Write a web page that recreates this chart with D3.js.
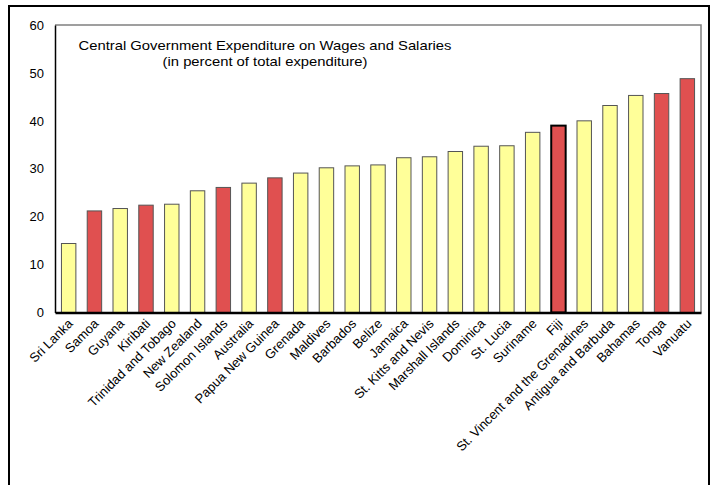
<!DOCTYPE html>
<html>
<head>
<meta charset="utf-8">
<script src="https://cdn.jsdelivr.net/npm/d3@7"></script>
<style>
  html, body { margin: 0; padding: 0; background: #fff; }
  svg { display: block; }
  text { font-family: "Liberation Sans", Arial, sans-serif; fill: #000; }
</style>
</head>
<body>
<svg id="chart" width="711" height="485"></svg>
<script>
// Countries, ordered from lowest to highest share
const countries = [
  "Sri Lanka", "Samoa", "Guyana", "Kiribati", "Trinidad and Tobago",
  "New Zealand", "Solomon Islands", "Australia", "Papua New Guinea",
  "Grenada", "Maldives", "Barbados", "Belize", "Jamaica",
  "St. Kitts and Nevis", "Marshall Islands", "Dominica", "St. Lucia",
  "Suriname", "Fiji", "St. Vincent and the Grenadines",
  "Antigua and Barbuda", "Bahamas", "Tonga", "Vanuatu"
];
// Wages and salaries, percent of total expenditure
const wageShare = [
  14.4, 21.2, 21.7, 22.4, 22.6,
  25.4, 26.1, 27.0, 28.1,
  29.1, 30.2, 30.6, 30.8, 32.3,
  32.5, 33.6, 34.7, 34.8,
  37.6, 39.0, 40.0,
  43.2, 45.3, 45.7, 48.8
];
// Pacific economies are shown in red
const highlighted = [
  "Samoa", "Kiribati", "Solomon Islands", "Papua New Guinea",
  "Fiji", "Tonga", "Vanuatu"
];
const emphasized = ["Fiji"];
const yTicks = [0, 10, 20, 30, 40, 50, 60];
const titleLines = [
  "Central Government Expenditure on Wages and Salaries",
  "(in percent of total expenditure)"
];

const data = countries.map((c, i) => ({ name: c, value: wageShare[i] }));

const svg = d3.select("#chart");
const plot = { left: 55, top: 25, right: 701, bottom: 312.5 };

// Outer frame
svg.append("rect")
  .attr("x", 9).attr("y", 6)
  .attr("width", 700).attr("height", 520)
  .attr("fill", "none").attr("stroke", "#000").attr("stroke-width", 2);

const x = d3.scaleBand()
  .domain(countries)
  .range([plot.left, plot.right])
  .paddingInner(0.44)
  .paddingOuter(0.25);

const y = d3.scaleLinear()
  .domain([0, 60])
  .range([plot.bottom, plot.top]);

// Plot area border (top and right in grey)
svg.append("path")
  .attr("d", `M${plot.left},${plot.top}H${plot.right}V${plot.bottom}`)
  .attr("fill", "none").attr("stroke", "#808080").attr("stroke-width", 1.5);

// Bars
svg.append("g").selectAll("rect")
  .data(data)
  .join("rect")
  .attr("x", d => x(d.name))
  .attr("y", d => y(d.value))
  .attr("width", x.bandwidth())
  .attr("height", d => y(0) - y(d.value))
  .attr("fill", d => highlighted.includes(d.name) ? "#E05050" : "#FFFF99")
  .attr("stroke", d => emphasized.includes(d.name) ? "#000" : "#555")
  .attr("stroke-width", d => emphasized.includes(d.name) ? 2 : 1);

// Y axis
const yAxis = svg.append("g")
  .attr("transform", `translate(${plot.left},0)`)
  .call(d3.axisLeft(y).tickValues(yTicks).tickSize(0).tickPadding(11).tickFormat(d3.format("d")));
yAxis.select(".domain").attr("stroke", "#000").attr("stroke-width", 1.5);
yAxis.selectAll("text")
  .style("font-family", "'Liberation Sans', Arial, sans-serif")
  .style("font-size", "13px");

// X axis
const xAxis = svg.append("g")
  .attr("transform", `translate(0,${plot.bottom})`)
  .call(d3.axisBottom(x).tickSize(0).tickPadding(0));
xAxis.select(".domain").attr("stroke", "#000").attr("stroke-width", 2.5);
xAxis.selectAll("text")
  .style("font-family", "'Liberation Sans', Arial, sans-serif")
  .style("font-size", "13px")
  .attr("text-anchor", "end")
  .attr("dy", null)
  .attr("y", 0)
  .attr("transform", "translate(5,12) rotate(-45)");

// Title, set slightly wide
svg.append("g")
  .attr("transform", "translate(265,0) scale(1.14,1)")
  .append("text")
  .attr("x", 0).attr("y", 50.5)
  .attr("text-anchor", "middle")
  .style("font-size", "13px")
  .selectAll("tspan")
  .data(titleLines)
  .join("tspan")
  .attr("x", 0)
  .attr("dy", (d, i) => i === 0 ? 0 : 16)
  .text(d => d);
</script>
</body>
</html>
